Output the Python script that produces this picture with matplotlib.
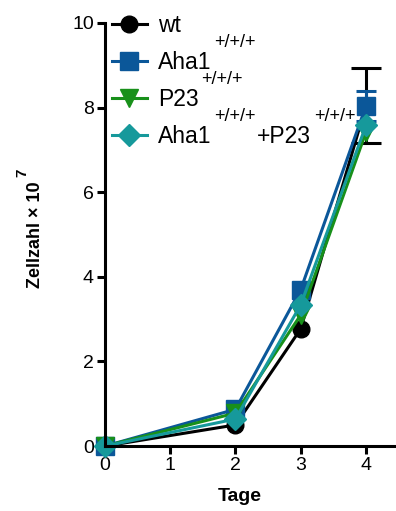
import numpy as np
import matplotlib
matplotlib.use("Agg")
import matplotlib.pyplot as plt

plt.rcParams['font.family'] = ['Liberation Sans', 'DejaVu Sans']

# data (Zellzahl x 10^7)
tage = [0, 2, 3, 4]
wt = [0.0, 0.50, 2.77, 8.05]
wt_err = [0.0, 0.0, 0.0, 0.88]
aha1 = [0.0, 0.87, 3.70, 8.04]
aha1_err = [0.0, 0.0, 0.0, 0.36]
p23 = [0.0, 0.78, 3.10, 7.42]
p23_err = [0.0, 0.0, 0.0, 0.0]
both = [0.0, 0.64, 3.34, 7.58]
both_err = [0.0, 0.0, 0.0, 0.0]

series = [
    ("wt", wt, wt_err, "black", "o", 12, 10.5),
    ("Aha1", aha1, aha1_err, "#0b5799", "s", 13, 7),
    ("P23", p23, p23_err, "#18901a", "v", 13, 7),
    ("Aha1", both, both_err, "#16999b", "D", 11, 7),
]

fig = plt.figure(figsize=(3.96, 5.11), dpi=100)
ax = fig.add_axes([0.265, 0.127, 0.735, 0.828])

handles = []
for name, vals, err, col, mk, ms, cap in series:
    x = np.array(tage, dtype=float)
    y = np.array(vals)
    e = np.array(err)
    m = e > 0
    if m.any():
        ax.errorbar(x[m], y[m], yerr=e[m], fmt='none', ecolor=col,
                    elinewidth=2.2, capsize=cap, capthick=2.2, clip_on=False)
    h, = ax.plot(x, y, color=col, lw=2.2, marker=mk, ms=ms, clip_on=False)
    handles.append(h)

ax.set_xlim(0, 4.46)
ax.set_ylim(0, 10)
ax.set_xticks([0, 1, 2, 3, 4])
ax.set_yticks([0, 2, 4, 6, 8, 10])
ax.spines['top'].set_visible(False)
ax.spines['right'].set_visible(False)
for s in ['left', 'bottom']:
    ax.spines[s].set_linewidth(2.2)
ax.tick_params(width=2.2, length=6, labelsize=14, pad=2)

ax.set_xlabel("Tage", fontsize=14, fontweight='bold')
ax.xaxis.set_label_coords(0.464, -0.099)
ax.set_ylabel("Zellzahl × 10", fontsize=13, fontweight='bold')
ax.yaxis.set_label_coords(-0.21, 0.5)
ax.annotate("7", xy=(0, 1), xycoords=ax.yaxis.label, xytext=(1.5, 3),
            textcoords='offset points', rotation=90, fontsize=11,
            fontweight='bold', ha='right', va='bottom', zorder=10)

labels = ["wt", "Aha1", "P23", "Aha1"]
leg = ax.legend(handles, labels, loc='upper left', bbox_to_anchor=(0.024, 1.022),
                frameon=False, fontsize=16.5, handlelength=1.53, handletextpad=0.48,
                labelspacing=0.62, borderaxespad=0, borderpad=0)
texts = leg.get_texts()
sup = "+/+/+"
sups = []
for t in texts[1:]:
    a = ax.annotate(sup, xy=(1, 1), xycoords=t, xytext=(2, 6),
                    textcoords='offset points', fontsize=13, ha='left',
                    va='center', zorder=10)
    sups.append(a)
plus = ax.annotate("+P23", xy=(1, 0.5), xycoords=(sups[-1], texts[3]),
                   xytext=(1, 0), textcoords='offset points', fontsize=16.5,
                   ha='left', va='center', zorder=10)
ax.annotate(sup, xy=(1, 1), xycoords=plus, xytext=(2, 6),
            textcoords='offset points', fontsize=13, ha='left', va='center',
            zorder=10)

fig.savefig("out.png", dpi=100)
